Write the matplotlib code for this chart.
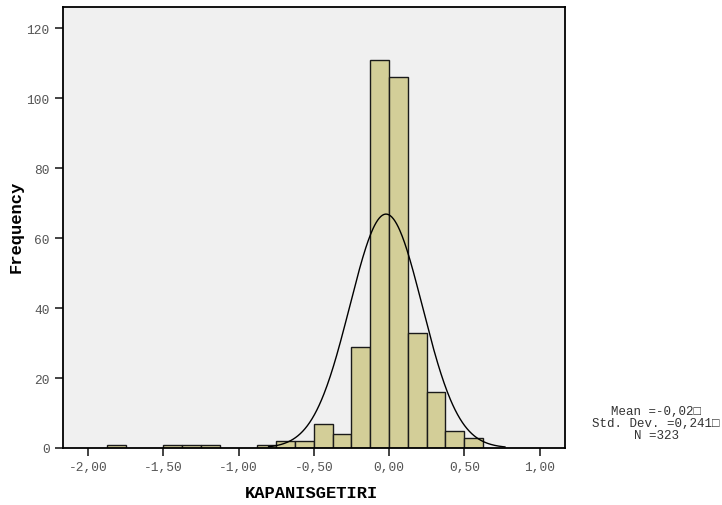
import numpy as np
import matplotlib.pyplot as plt

# histogram bins (left edges) and counts
bin_left = [-1.875, -1.5, -1.375, -1.25, -0.875, -0.75, -0.625, -0.5, -0.375,
            -0.25, -0.125, 0.0, 0.125, 0.25, 0.375, 0.5]
counts = [1, 1, 1, 1, 1, 2, 2, 7, 4, 29, 111, 106, 33, 16, 5, 3]
bin_width = 0.125

mean = -0.02
std = 0.241
n = 323

xticks = [-2.0, -1.5, -1.0, -0.5, 0.0, 0.5, 1.0]
xtick_labels = ['-2,00', '-1,50', '-1,00', '-0,50', '0,00', '0,50', '1,00']
yticks = [0, 20, 40, 60, 80, 100, 120]

mono = ['Liberation Mono', 'DejaVu Sans Mono']
plt.rcParams['font.family'] = mono

fig = plt.figure(figsize=(7.22, 5.06), dpi=100, facecolor='white')
ax = fig.add_axes([63 / 722, 57 / 506, 502 / 722, 441 / 506], facecolor='#f0f0f0')

ax.bar(bin_left, counts, width=bin_width, align='edge', color='#d3ce98',
       edgecolor='#1a1a1a', linewidth=1.0, zorder=2)

# normal curve scaled to counts
xs = np.linspace(-0.80, 0.77, 300)
ys = n * bin_width / (std * np.sqrt(2 * np.pi)) * np.exp(-0.5 * ((xs - mean) / std) ** 2)
ax.plot(xs, ys, color='black', linewidth=1.0, zorder=3)

ax.set_xlim(-2.166, 1.169)
ax.set_ylim(0, 126)
ax.set_xticks(xticks)
ax.set_xticklabels(xtick_labels)
ax.set_yticks(yticks)
ax.tick_params(direction='out', length=6, width=1.2, color='#222222',
               labelcolor='#555555', labelsize=9.3)
for s in ax.spines.values():
    s.set_linewidth(1.3)
    s.set_color('black')

ax.set_xlabel('KAPANISGETIRI', fontsize=12.3, fontweight='bold')
ax.xaxis.set_label_coords(0.495, -0.084)
ax.set_ylabel('Frequency', fontsize=12.3, fontweight='bold')
ax.yaxis.set_label_coords(-0.078, 0.503)

fig.text(656 / 722, 1 - 424 / 506,
         'Mean =-0,02\u25a1\nStd. Dev. =0,241\u25a1\nN =323',
         ha='center', va='center', fontsize=9, color='#333333',
         family=mono, linespacing=0.95)

fig.savefig('out.png', dpi=100)
